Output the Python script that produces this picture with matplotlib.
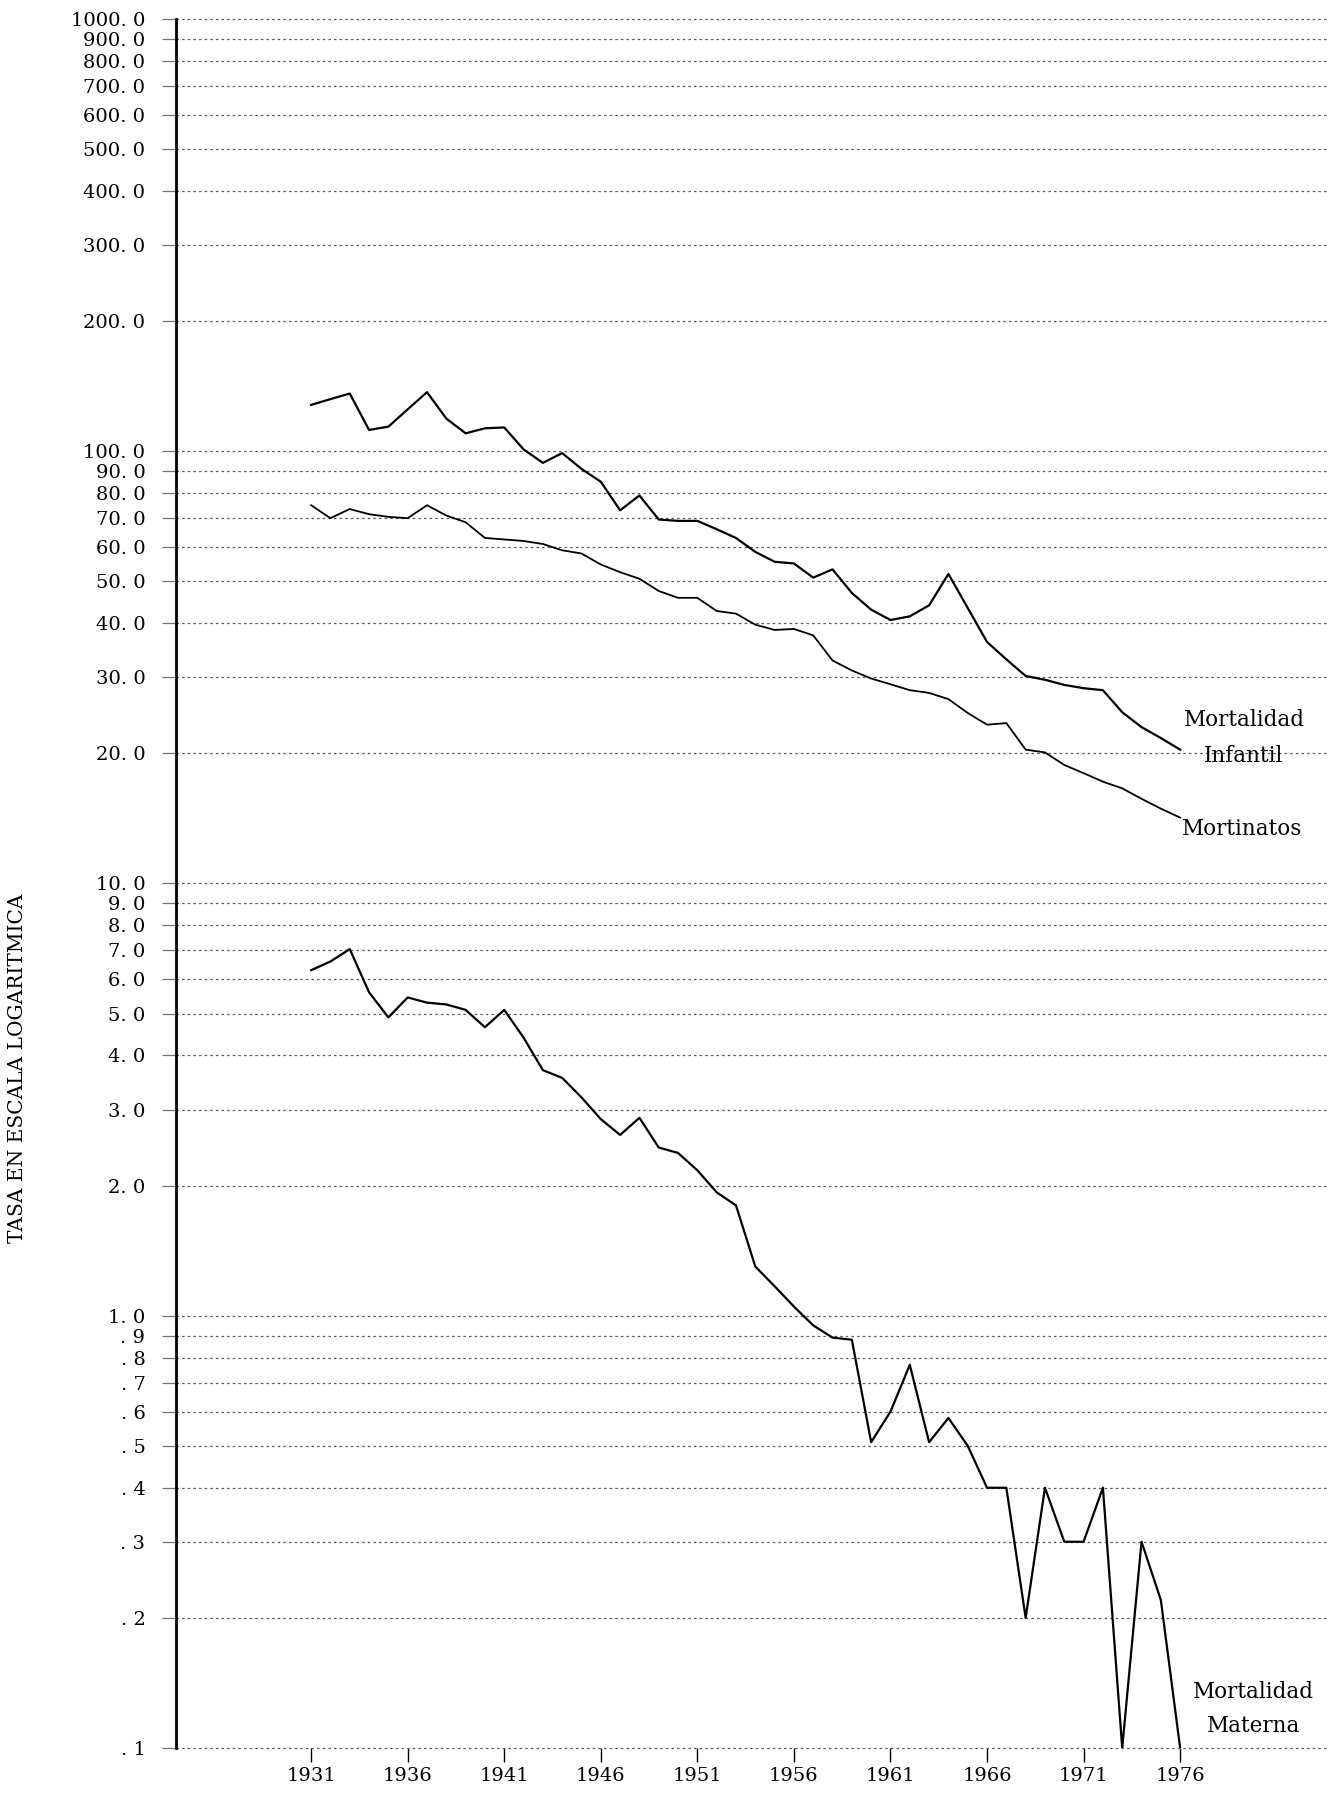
import numpy as np
from matplotlib import pyplot as plt
from matplotlib.ticker import NullLocator

### years of the series
years = list(range(1931, 1977))

### mortalidad infantil (por 1000 nacidos vivos)
infantil = [128, 132, 136, 112, 114, 125, 137, 119, 110, 113,
            113.5, 101, 94, 99, 91, 85, 73, 79, 69.5, 69,
            69, 66, 63, 58.5, 55.5, 55, 51, 53.3, 47, 43,
            40.7, 41.5, 44, 52, 43.4, 36.2, 33, 30.2, 29.6, 28.8,
            28.3, 28.0, 24.9, 23.0, 21.7, 20.4]

### mortinatos
mortinatos = [75, 70, 73.5, 71.5, 70.5, 70, 75, 71, 68.5, 63,
              62.5, 62, 61, 59, 58, 54.7, 52.5, 50.7, 47.5, 45.8,
              45.8, 42.7, 42.1, 39.7, 38.6, 38.8, 37.5, 32.8, 31.1, 29.8,
              28.9, 28.0, 27.6, 26.7, 24.8, 23.3, 23.5, 20.4, 20.1, 18.8,
              18.0, 17.2, 16.6, 15.7, 14.9, 14.2]

### mortalidad materna
materna = [6.3, 6.6, 7.05, 5.6, 4.9, 5.45, 5.3, 5.25, 5.1, 4.65,
           5.1, 4.4, 3.7, 3.55, 3.2, 2.85, 2.62, 2.87, 2.45, 2.38,
           2.17, 1.93, 1.8, 1.3, 1.17, 1.05, 0.95, 0.89, 0.88, 0.51,
           0.60, 0.77, 0.51, 0.58, 0.50, 0.40, 0.40, 0.20, 0.40, 0.30,
           0.30, 0.40, 0.10, 0.30, 0.22, 0.10]

### y ticks and their labels
ytick_values = [1000, 900, 800, 700, 600, 500, 400, 300, 200,
                100, 90, 80, 70, 60, 50, 40, 30, 20,
                10, 9, 8, 7, 6, 5, 4, 3, 2,
                1, .9, .8, .7, .6, .5, .4, .3, .2, .1]
ytick_labels = ['1000. 0', '900. 0', '800. 0', '700. 0', '600. 0', '500. 0', '400. 0', '300. 0', '200. 0',
                '100. 0', '90. 0', '80. 0', '70. 0', '60. 0', '50. 0', '40. 0', '30. 0', '20. 0',
                '10. 0', '9. 0', '8. 0', '7. 0', '6. 0', '5. 0', '4. 0', '3. 0', '2. 0',
                '1. 0', '. 9', '. 8', '. 7', '. 6', '. 5', '. 4', '. 3', '. 2', '. 1']
xtick_years = [1931, 1936, 1941, 1946, 1951, 1956, 1961, 1966, 1971, 1976]

plt.rcParams['font.family'] = ['DejaVu Serif']

fig = plt.figure(figsize=(13.36, 18.02), dpi=100)
ax = fig.add_axes([0.1317, 0.02997, 0.8615, 0.9595])

ax.plot(years, infantil, color='black', lw=1.6)
ax.plot(years, mortinatos, color='black', lw=1.3)
ax.plot(years, materna, color='black', lw=1.6)

ax.set_yscale('log')
ax.set_ylim(0.1, 1000)
ax.set_xlim(1924.0, 1983.6)

ax.set_yticks(ytick_values)
ax.set_yticklabels(ytick_labels)
ax.yaxis.set_minor_locator(NullLocator())
ax.set_xticks(xtick_years)
ax.set_xticklabels([str(y) for y in xtick_years])

ax.grid(axis='y', which='major', color='0.35', lw=0.9, linestyle=(0, (2, 2.5)))
### keep the first and last grid lines whole
for gl in ax.get_ygridlines():
    gl.set_clip_on(False)
ax.tick_params(axis='y', direction='out', length=10, width=0.9, color='0.45', pad=12, labelsize=14)
ax.tick_params(axis='x', direction='out', length=10, width=1.0, color='black', pad=4, labelsize=14)

for side in ['top', 'right', 'bottom']:
    ax.spines[side].set_visible(False)
ax.spines['left'].set_linewidth(2.0)

### series names at the right end of the lines
ax.text(1979.3, 23.9, 'Mortalidad', ha='center', va='center', fontsize=15.5)
ax.text(1979.3, 19.7, 'Infantil', ha='center', va='center', fontsize=15.5)
ax.text(1979.2, 13.4, 'Mortinatos', ha='center', va='center', fontsize=15.5)
ax.text(1979.8, 0.135, 'Mortalidad', ha='center', va='center', fontsize=15.5)
ax.text(1979.8, 0.1125, 'Materna', ha='center', va='center', fontsize=15.5)

fig.text(0.013, 0.407, 'TASA EN ESCALA LOGARITMICA', rotation=90,
         ha='center', va='center', fontsize=14.5)

plt.savefig('out.png', dpi=100)
